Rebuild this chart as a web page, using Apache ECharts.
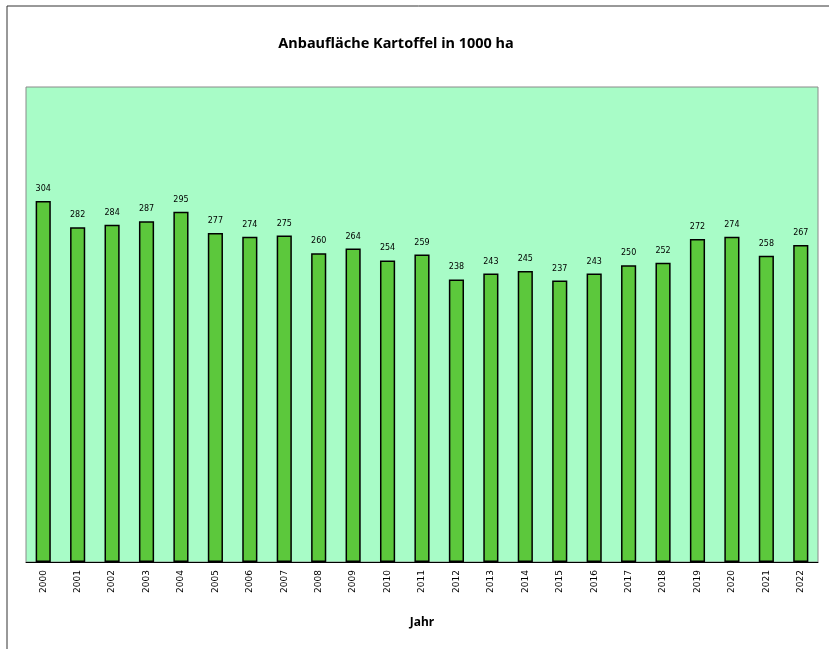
<!DOCTYPE html>
<html>
<head>
<meta charset="utf-8">
<script src="https://cdn.jsdelivr.net/npm/echarts@6/dist/echarts.min.js"></script>
<style>
  html, body { margin: 0; padding: 0; background: #fff; }
  #chart { width: 829px; height: 649px; }
</style>
</head>
<body>
<div id="chart"></div>
<script>
  // Anbaufläche Kartoffel, 1000 ha
  var years = ['2000', '2001', '2002', '2003', '2004', '2005', '2006', '2007', '2008', '2009', '2010', '2011',
               '2012', '2013', '2014', '2015', '2016', '2017', '2018', '2019', '2020', '2021', '2022'];
  var flaeche = [304, 282, 284, 287, 295, 277, 274, 275, 260, 264, 254, 259,
                 238, 243, 245, 237, 243, 250, 252, 272, 274, 258, 267];

  var chart = echarts.init(document.getElementById('chart'));
  chart.setOption({
    animation: false,
    title: {
      text: 'Anbaufläche Kartoffel in 1000 ha',
      left: 391,
      top: 31,
      textAlign: 'center',
      textStyle: {
        fontFamily: '"Noto Sans", sans-serif',
        fontWeight: 'bold',
        fontSize: 14.5,
        color: '#000'
      }
    },
    graphic: [{
      type: 'rect',
      shape: { x: 7, y: 6, width: 900, height: 700 },
      style: { fill: 'none', stroke: '#333', lineWidth: 1 },
      silent: true
    }],
    grid: {
      left: 26,
      right: 11,
      top: 87,
      bottom: 87,
      show: true,
      backgroundColor: '#a8fcc7',
      borderColor: '#8a8a8a',
      borderWidth: 1
    },
    xAxis: {
      type: 'category',
      data: years,
      name: 'Jahr',
      nameLocation: 'middle',
      nameGap: 55,
      nameTextStyle: {
        fontFamily: '"Noto Sans", sans-serif',
        fontWeight: 'bold',
        fontSize: 12,
        color: '#000'
      },
      axisLine: { lineStyle: { color: '#000', width: 1 } },
      axisTick: { alignWithLabel: false, length: 4, lineStyle: { color: '#000' } },
      axisLabel: {
        rotate: 90,
        interval: 0,
        margin: 8,
        fontFamily: 'DejaVu Sans',
        fontSize: 9,
        color: '#000'
      }
    },
    yAxis: {
      type: 'value',
      min: 0,
      max: 400,
      show: false,
      splitLine: { show: false }
    },
    series: [{
      type: 'bar',
      data: flaeche,
      barWidth: '44%',
      itemStyle: {
        color: '#5cc83c',
        borderColor: '#000',
        borderWidth: 1.5
      },
      label: {
        show: true,
        position: 'top',
        distance: 8,
        fontFamily: 'DejaVu Sans',
        fontSize: 8,
        color: '#000'
      }
    }]
  });
</script>
</body>
</html>
